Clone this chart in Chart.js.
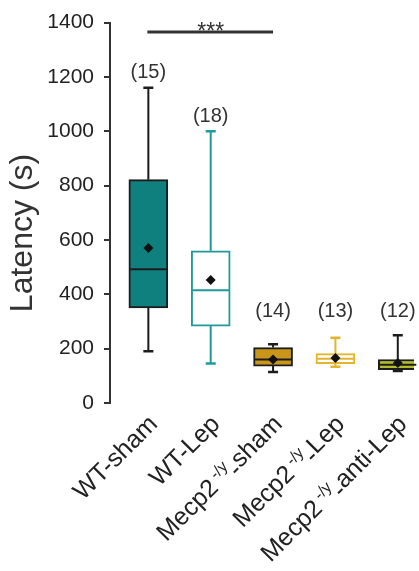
<!DOCTYPE html>
<html>
<head>
<meta charset="utf-8">
<script src="https://cdn.jsdelivr.net/npm/chart.js@4.4.1/dist/chart.umd.min.js"></script>
<style>
  html, body { margin: 0; padding: 0; background: #fff; overflow: hidden; }
  #wrap { width: 419px; height: 571px; }
</style>
</head>
<body>
<div id="wrap"><canvas id="chart" width="419" height="571"></canvas></div>
<script>
// groups (label is split so the genotype superscript can be drawn)
const groupMain = ['WT-sham', 'WT-Lep', 'Mecp2', 'Mecp2', 'Mecp2'];
const groupSup = ['', '', '-/y', '-/y', '-/y'];
const groupTail = ['', '', 'sham', 'Lep', 'anti-Lep'];
const nAnimals = [15, 18, 14, 13, 12];

// box plot values, latency in s
const whiskerLow = [190, 145, 114, 133, 118];
const q1 = [350, 283, 136, 145, 123];
const median = [492, 415, 160, 163, 141];
const q3 = [822, 560, 204, 182, 160];
const whiskerHigh = [1160, 1000, 216, 240, 249];
const mean = [570, 453, 160, 166, 147];

const yTicks = [0, 200, 400, 600, 800, 1000, 1200, 1400];

// significance bar between WT-sham and Mecp2-sham
const sigFrom = 0;
const sigTo = 2;
const sigAt = 1365;
const sigText = '***';

const boxFill = ['#10807e', '#ffffff', '#c9961a', '#ffffff', '#b3bd2c'];
const boxLine = ['#1c1c1c', '#1f9a98', '#1c1c1c', '#e4b52c', '#1c1c1c'];

const FONT = "'Liberation Sans', Arial, sans-serif";

const boxParts = {
  id: 'boxParts',
  afterDatasetDraw(chart, args) {
    if (args.index !== 0) return;
    const ctx = chart.ctx;
    const y = chart.scales.y;
    args.meta.data.forEach((bar, i) => {
      const x = bar.x;
      const half = bar.width / 2;
      ctx.save();
      ctx.strokeStyle = boxLine[i];
      ctx.lineWidth = 2;
      ctx.beginPath();
      ctx.moveTo(x, y.getPixelForValue(q3[i]));
      ctx.lineTo(x, y.getPixelForValue(whiskerHigh[i]));
      ctx.moveTo(x, y.getPixelForValue(q1[i]));
      ctx.lineTo(x, y.getPixelForValue(whiskerLow[i]));
      ctx.stroke();
      ctx.lineWidth = 2.5;
      ctx.beginPath();
      [whiskerHigh[i], whiskerLow[i]].forEach(v => {
        const py = y.getPixelForValue(v);
        ctx.moveTo(x - 5, py);
        ctx.lineTo(x + 5, py);
      });
      ctx.stroke();
      const pm = y.getPixelForValue(median[i]);
      ctx.lineWidth = 2;
      ctx.beginPath();
      ctx.moveTo(x - half + 1, pm);
      ctx.lineTo(x + half - 1, pm);
      ctx.stroke();
      ctx.restore();
    });
  }
};

const annotations = {
  id: 'annotations',
  afterDraw(chart) {
    const ctx = chart.ctx;
    const x = chart.scales.x;
    const y = chart.scales.y;
    ctx.save();

    // n per group
    ctx.fillStyle = '#333';
    ctx.font = '20px ' + FONT;
    ctx.textAlign = 'center';
    ctx.textBaseline = 'middle';
    nAnimals.forEach((n, i) => {
      const py = Math.min(y.getPixelForValue(whiskerHigh[i]) - 15, y.getPixelForValue(335));
      ctx.fillText('(' + n + ')', x.getPixelForValue(i), py);
    });

    // significance
    const sy = y.getPixelForValue(sigAt);
    ctx.strokeStyle = '#333';
    ctx.lineWidth = 3;
    ctx.beginPath();
    ctx.moveTo(x.getPixelForValue(sigFrom) - 1, sy);
    ctx.lineTo(x.getPixelForValue(sigTo), sy);
    ctx.stroke();
    ctx.font = '23px ' + FONT;
    ctx.textBaseline = 'alphabetic';
    ctx.fillText(sigText, (x.getPixelForValue(sigFrom) + x.getPixelForValue(sigTo)) / 2, sy + 7);

    // y title
    ctx.save();
    ctx.translate(23, 233);
    ctx.rotate(-Math.PI / 2);
    ctx.font = '32px ' + FONT;
    ctx.textBaseline = 'middle';
    ctx.fillText('Latency (s)', 0, 0);
    ctx.restore();

    // rotated group labels; the hyphen after the superscript sits low, as in the figure
    ctx.fillStyle = '#222';
    groupMain.forEach((m, i) => {
      ctx.save();
      ctx.translate(x.getPixelForValue(i) + 4, y.bottom + 16);
      ctx.rotate(-Math.PI / 4);
      ctx.textAlign = 'left';
      ctx.textBaseline = 'alphabetic';
      ctx.font = '25px ' + FONT;
      const w1 = ctx.measureText(m).width;
      const w3 = ctx.measureText(groupTail[i]).width;
      const wd = groupSup[i] ? ctx.measureText('-').width - 1 : 0;
      ctx.font = '16px ' + FONT;
      const w2 = groupSup[i] ? ctx.measureText(groupSup[i]).width + 4 : 0;
      let px = -(w1 + w2 + wd + w3);
      ctx.font = '25px ' + FONT;
      ctx.fillText(m, px, 9);
      px += w1;
      if (groupSup[i]) {
        ctx.font = '16px ' + FONT;
        ctx.fillText(groupSup[i], px + 4, 0);
        px += w2;
        ctx.font = '25px ' + FONT;
        ctx.fillText('-', px - 1, 14);
        px += wd;
      }
      ctx.fillText(groupTail[i], px, 9);
      ctx.restore();
    });
    ctx.restore();
  }
};

new Chart(document.getElementById('chart'), {
  type: 'bar',
  data: {
    datasets: [{
      type: 'bar',
      order: 2,
      data: q1.map((v, i) => ({ x: i, y: [v, q3[i]] })),
      backgroundColor: boxFill,
      borderColor: boxLine,
      borderWidth: 2,
      borderSkipped: false,
      barThickness: 39
    }, {
      type: 'scatter',
      order: 1,
      data: mean.map((v, i) => ({ x: i, y: v })),
      pointStyle: 'rectRot',
      pointRadius: 5,
      backgroundColor: '#111',
      borderWidth: 0
    }]
  },
  options: {
    responsive: false,
    devicePixelRatio: 1,
    animation: false,
    layout: { padding: { top: 20, bottom: 168, left: 0, right: 0 } },
    plugins: { legend: { display: false }, tooltip: { enabled: false } },
    scales: {
      x: {
        type: 'linear',
        offset: false,
        min: -0.615,
        max: 4.26,
        display: false
      },
      y: {
        min: 0,
        max: 1400,
        afterBuildTicks(scale) { scale.ticks = yTicks.map(v => ({ value: v })); },
        afterFit(scale) { scale.width = 110; },
        ticks: { font: { family: FONT, size: 21 }, color: '#222', padding: 10, callback: v => String(v) },
        grid: { drawOnChartArea: false, drawTicks: true, tickLength: 6, color: '#333', lineWidth: 2 },
        border: { display: true, color: '#333', width: 2 }
      }
    }
  },
  plugins: [boxParts, annotations]
});
</script>
</body>
</html>
